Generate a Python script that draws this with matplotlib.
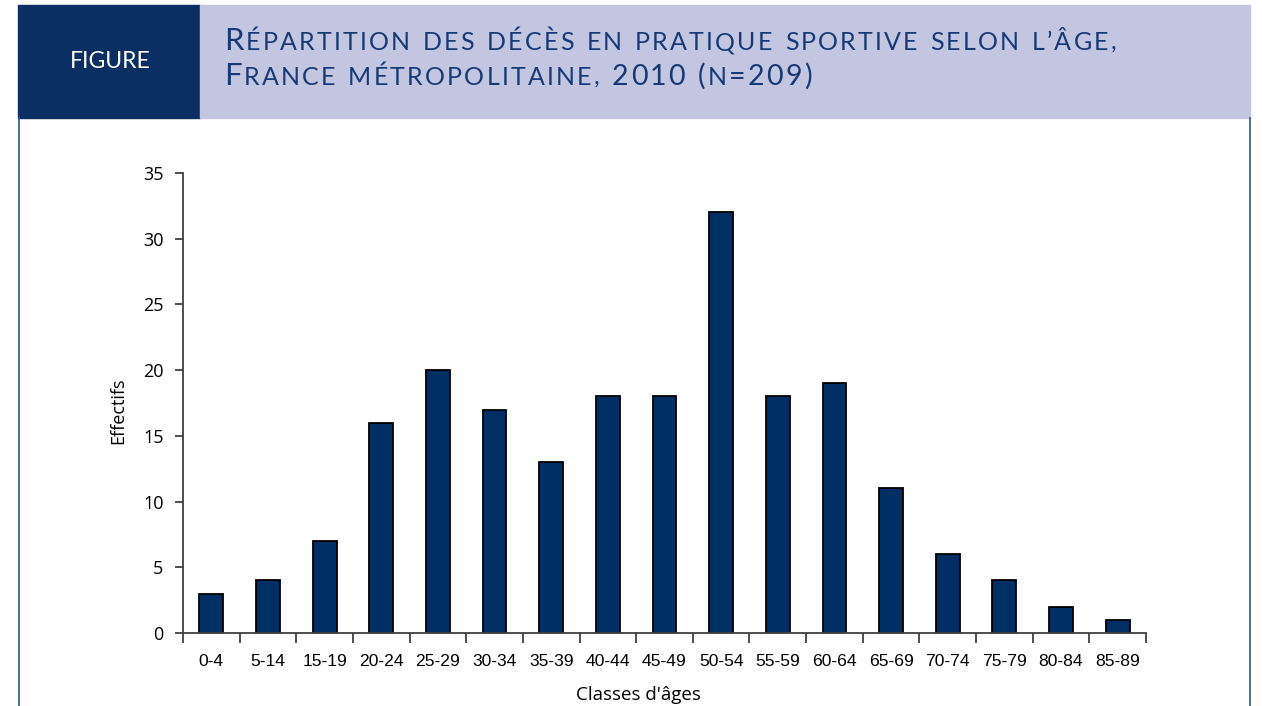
import matplotlib
matplotlib.use("Agg")
import matplotlib.pyplot as plt
from matplotlib.offsetbox import TextArea, HPacker, VPacker, AnchoredOffsetbox, DrawingArea
from matplotlib.patches import Rectangle
from matplotlib.lines import Line2D

categories = ["0-4", "5-14", "15-19", "20-24", "25-29", "30-34", "35-39", "40-44",
              "45-49", "50-54", "55-59", "60-64", "65-69", "70-74", "75-79", "80-84", "85-89"]
values = [3, 4, 7, 16, 20, 17, 13, 18, 18, 32, 18, 19, 11, 6, 4, 2, 1]
yticks = [0, 5, 10, 15, 20, 25, 30, 35]

NAVY = "#002f66"
HEAD_NAVY = "#0b2f63"
LAV = "#c3c6e0"
TITLE_C = "#173a75"

W, H = 1262, 706
fig = plt.figure(figsize=(W / 100, H / 100), dpi=100)

def fx(px):
    return px / W

def fy(py):
    return 1 - py / H

# header boxes
fig.patches.append(Rectangle((fx(18), fy(118)), fx(200 - 18), (118 - 5) / H,
                             transform=fig.transFigure, color=HEAD_NAVY, zorder=0))
fig.patches.append(Rectangle((fx(200), fy(118)), fx(1250 - 200), (118 - 5) / H,
                             transform=fig.transFigure, color=LAV, zorder=0))
# frame lines
fig.lines.append(Line2D([fx(19), fx(19)], [fy(118), 0], transform=fig.transFigure,
                        color="#2f4f8f", lw=1.2))
fig.lines.append(Line2D([fx(1250), fx(1250)], [fy(118), 0], transform=fig.transFigure,
                        color="#2f4f8f", lw=1.2))

fig.text(fx(110), fy(62), "FIGURE", color="white", fontsize=16.5, family="Lato",
         ha="center", va="center")

big, small, mid = 22.5, 18, 20.5
fam = "Lato"
TRACK = 1.6
SPACE = 6

def chars(s, size):
    out = []
    for c in s:
        if c == " ":
            out.append(DrawingArea(SPACE, 1))
        else:
            out.append(TextArea(c, textprops=dict(fontsize=size, color=TITLE_C, family=fam)))
    return out

def line(pieces):
    kids = []
    for s, size in pieces:
        kids += chars(s, size)
    return HPacker(children=kids, align="baseline", pad=0, sep=TRACK)

line1 = line([("R", big), ("ÉPARTITION DES DÉCÈS EN PRATIQUE SPORTIVE SELON L’ÂGE,", small)])
line2 = line([("F", big), ("RANCE MÉTROPOLITAINE,", small), (" 2010 (", mid),
              ("N", small), ("=209)", mid)])
box = VPacker(children=[line1, line2], align="left", pad=0, sep=5)
anch = AnchoredOffsetbox(loc="upper left", child=box, pad=0, frameon=False,
                         bbox_to_anchor=(fx(224), fy(27)), bbox_transform=fig.transFigure,
                         borderpad=0)
fig.add_artist(anch)

ax = fig.add_axes([fx(183), fy(633), fx(1146 - 183), (633 - 173) / H])
x = list(range(len(categories)))
ax.bar(x, values, width=0.42, color=NAVY, edgecolor="black", linewidth=1.3, zorder=2)
ax.set_xlim(-0.5, len(categories) - 0.5)
ax.set_ylim(0, 35)
ax.set_yticks(yticks)
ax.set_yticklabels([str(v) for v in yticks], family="Open Sans", fontsize=13)
ax.set_xticks([i - 0.5 for i in range(len(categories) + 1)])
ax.set_xticklabels([])
ax.set_xticks(x, minor=True)
ax.set_xticklabels(categories, minor=True, family="Liberation Sans", fontsize=12.6)
ax.tick_params(axis="x", which="major", direction="out", length=7, width=1.3, color="#404040")
ax.tick_params(axis="x", which="minor", length=0, pad=15)
ax.tick_params(axis="y", direction="out", length=6, width=1.3, color="#404040", pad=8)
for s in ["top", "right"]:
    ax.spines[s].set_visible(False)
for s in ["left", "bottom"]:
    ax.spines[s].set_color("#404040")
    ax.spines[s].set_linewidth(1.3)

fig.text(fx(118), fy(411), "Effectifs", rotation=90, ha="center", va="center",
         family="Open Sans", fontsize=13)
fig.text(fx(638), fy(695), "Classes d'âges", ha="center", va="center",
         family="Open Sans", fontsize=13.5)

fig.savefig("out.png", dpi=100)
